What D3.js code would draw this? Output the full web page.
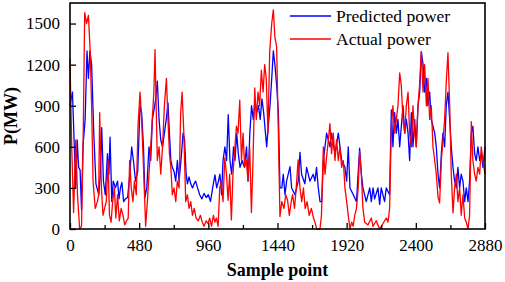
<!DOCTYPE html>
<html><head><meta charset="utf-8">
<script src="https://cdn.jsdelivr.net/npm/d3@7"></script>
<style>body{margin:0;background:#fff}svg{display:block}</style>
</head><body>
<svg id="c" width="505" height="282"></svg>
<script>
// [sample point, power MW]
const actualPower = [[0,1240],[12,600],[25,120],[40,650],[52,250],[67,0],[80,20],[92,700],[102,1580],[115,1500],[128,1560],[140,1300],[150,900],[160,350],[175,150],[190,200],[199,250],[206,850],[218,300],[229,100],[240,150],[252,200],[264,500],[274,100],[285,50],[296,200],[308,300],[318,80],[330,250],[342,60],[355,150],[368,100],[380,30],[392,60],[404,80],[414,500],[425,300],[437,200],[447,350],[460,250],[472,750],[486,1000],[497,800],[510,450],[525,20],[537,200],[548,400],[560,600],[572,820],[582,1000],[590,1310],[598,900],[606,500],[618,600],[630,400],[642,600],[655,900],[669,1100],[680,800],[690,550],[700,450],[710,250],[722,300],[734,200],[745,350],[757,300],[768,850],[778,1000],[790,700],[803,200],[815,250],[826,150],[838,200],[850,100],[862,150],[875,80],[890,60],[905,100],[918,50],[930,20],[945,60],[958,40],[970,80],[982,20],[995,100],[1005,50],[1016,80],[1028,20],[1039,300],[1050,350],[1062,200],[1074,520],[1086,400],[1097,210],[1108,400],[1120,66],[1131,400],[1143,580],[1155,750],[1166,700],[1178,940],[1190,500],[1201,700],[1212,450],[1224,500],[1235,350],[1247,600],[1259,120],[1270,500],[1282,1030],[1293,800],[1305,1000],[1316,900],[1328,1160],[1340,1000],[1351,1200],[1362,1100],[1374,700],[1386,1300],[1400,1500],[1411,1600],[1422,1400],[1434,1330],[1446,700],[1457,90],[1470,200],[1485,150],[1497,250],[1510,210],[1522,100],[1535,200],[1545,250],[1558,150],[1570,300],[1583,505],[1596,300],[1608,200],[1620,300],[1632,150],[1645,200],[1660,100],[1675,150],[1690,80],[1700,50],[1712,0],[1735,0],[1745,100],[1758,600],[1770,400],[1781,530],[1793,650],[1804,770],[1815,550],[1827,700],[1839,500],[1850,650],[1862,500],[1873,600],[1885,450],[1897,500],[1908,300],[1920,200],[1931,100],[1943,0],[1955,50],[1965,20],[1976,100],[1988,150],[2000,300],[2010,565],[2022,400],[2033,150],[2045,50],[2068,30],[2091,80],[2103,20],[2125,60],[2148,0],[2172,40],[2195,80],[2207,50],[2218,150],[2230,750],[2241,900],[2253,700],[2265,800],[2276,900],[2288,1140],[2299,1050],[2311,800],[2323,700],[2334,900],[2346,1000],[2357,700],[2369,600],[2380,900],[2392,700],[2403,600],[2415,900],[2427,1070],[2438,1295],[2450,1000],[2461,1200],[2473,900],[2484,1100],[2496,800],[2507,900],[2519,600],[2531,500],[2542,400],[2554,234],[2565,190],[2577,500],[2600,800],[2611,1070],[2623,1287],[2635,900],[2646,400],[2658,117],[2669,300],[2681,400],[2692,200],[2704,300],[2715,100],[2727,250],[2739,80],[2750,50],[2762,0],[2773,100],[2785,783],[2796,500],[2808,400],[2819,350],[2831,450],[2843,400],[2854,600],[2866,500],[2880,400]];
const predictedPower = [[0,900],[17,1000],[30,600],[40,300],[50,650],[60,450],[70,430],[80,140],[90,600],[105,800],[118,1300],[128,1100],[138,1300],[150,1200],[165,700],[180,330],[200,250],[210,400],[220,740],[232,350],[245,250],[260,550],[270,400],[278,670],[290,200],[300,350],[315,300],[330,350],[340,220],[350,300],[360,340],[372,200],[385,220],[400,230],[415,400],[428,600],[440,500],[455,350],[470,420],[486,900],[497,850],[510,600],[520,230],[533,300],[548,600],[560,500],[572,800],[583,870],[595,950],[606,1080],[618,800],[630,650],[642,600],[655,700],[668,800],[680,920],[690,700],[700,500],[710,450],[722,420],[734,350],[745,500],[757,350],[770,500],[785,700],[795,650],[806,400],[815,330],[826,380],[838,330],[850,300],[861,330],[872,350],[885,300],[900,250],[915,220],[930,260],[945,230],[960,250],[975,200],[990,300],[1006,395],[1018,300],[1030,350],[1040,400],[1052,250],[1062,500],[1075,600],[1087,500],[1098,834],[1110,500],[1122,400],[1135,600],[1145,500],[1157,700],[1168,550],[1180,450],[1195,500],[1210,450],[1225,600],[1236,350],[1248,700],[1260,900],[1272,800],[1284,940],[1296,850],[1308,900],[1320,800],[1332,950],[1344,850],[1365,600],[1376,750],[1388,900],[1400,1100],[1411,1300],[1422,1200],[1434,1050],[1446,850],[1457,300],[1470,300],[1480,400],[1492,250],[1503,350],[1527,455],[1538,300],[1561,250],[1584,350],[1596,560],[1607,400],[1630,330],[1642,450],[1665,350],[1688,400],[1700,350],[1711,450],[1723,300],[1735,200],[1747,200],[1758,500],[1781,700],[1804,600],[1815,700],[1839,550],[1862,700],[1885,500],[1908,450],[1920,350],[1931,600],[1943,300],[1966,250],[1988,200],[2010,590],[2022,400],[2033,300],[2056,200],[2080,300],[2091,200],[2103,300],[2114,220],[2137,300],[2149,180],[2160,300],[2183,200],[2195,300],[2218,250],[2230,870],[2241,600],[2253,850],[2265,700],[2276,800],[2288,600],[2311,900],[2323,700],[2334,800],[2346,700],[2357,500],[2369,850],[2380,600],[2392,800],[2403,600],[2415,900],[2427,1000],[2438,1295],[2450,1200],[2461,1000],[2473,1100],[2484,900],[2496,1000],[2507,800],[2519,750],[2531,700],[2542,600],[2554,400],[2565,300],[2577,550],[2588,700],[2600,600],[2611,900],[2623,1000],[2635,800],[2646,600],[2658,450],[2669,350],[2681,300],[2692,450],[2704,300],[2715,400],[2727,350],[2739,200],[2750,300],[2762,200],[2773,350],[2785,700],[2796,750],[2808,550],[2819,500],[2831,600],[2843,500],[2854,550],[2866,450],[2880,600]];
const xTicks = [0,480,960,1440,1920,2400,2880];
const xMinor = [240,720,1200,1680,2160,2640];
const yTicks = [0,300,600,900,1200,1500];
const seriesNames = ["Predicted power","Actual power"];
const colors = ["#0000ff","#ff0000"];

const svg = d3.select("#c");
const L=70,R=485,T=3,B=229;
const x = d3.scaleLinear().domain([0,2880]).range([L,R]);
const y = d3.scaleLinear().domain([0,1650]).range([B,T]);
const font = "'Liberation Serif','Times New Roman',serif";

const line = d3.line().x(d=>x(d[0])).y(d=>y(d[1]));
[predictedPower, actualPower].forEach((s,k)=>{
  svg.append("path").datum(s).attr("d",line).attr("fill","none")
    .attr("stroke",colors[k]).attr("stroke-width",1.3).attr("stroke-linejoin","round");
});

// frame
svg.append("rect").attr("x",L).attr("y",T).attr("width",R-L).attr("height",B-T)
  .attr("fill","none").attr("stroke","#000").attr("stroke-width",1.6);

// x axis
const xa = svg.append("g").attr("transform",`translate(0,${B})`)
  .call(d3.axisBottom(x).tickValues(xTicks).tickSizeInner(-6).tickSizeOuter(0).tickPadding(10).tickFormat(d3.format("d")));
xa.select(".domain").remove();
const xm = svg.append("g").attr("transform",`translate(0,${B})`)
  .call(d3.axisBottom(x).tickValues(xMinor).tickSizeInner(-4).tickSizeOuter(0).tickFormat(""));
xm.select(".domain").remove();
// y axis
const ya = svg.append("g").attr("transform",`translate(${L},0)`)
  .call(d3.axisLeft(y).tickValues(yTicks).tickSizeInner(-6).tickSizeOuter(0).tickPadding(10).tickFormat(d3.format("d")));
ya.select(".domain").remove();
svg.selectAll(".tick line").attr("stroke","#000").attr("stroke-width",1.3);
svg.selectAll(".tick text").attr("font-family",font).attr("font-size",17).attr("fill","#000");

// axis titles
svg.append("text").attr("x",(L+R)/2).attr("y",276).attr("text-anchor","middle")
  .attr("font-family",font).attr("font-weight","bold").attr("font-size",18).text("Sample point");
svg.append("text").attr("transform",`translate(17,${(T+B)/2}) rotate(-90)`).attr("text-anchor","middle")
  .attr("font-family",font).attr("font-weight","bold").attr("font-size",18).text("P(MW)");

// legend
seriesNames.forEach((n,k)=>{
  const ly = 16 + k*23;
  svg.append("line").attr("x1",290).attr("x2",331).attr("y1",ly).attr("y2",ly)
    .attr("stroke",colors[k]).attr("stroke-width",1.3);
  svg.append("text").attr("x",336).attr("y",ly+6).attr("font-family",font).attr("font-size",17.5).text(n);
});
</script>
</body></html>
